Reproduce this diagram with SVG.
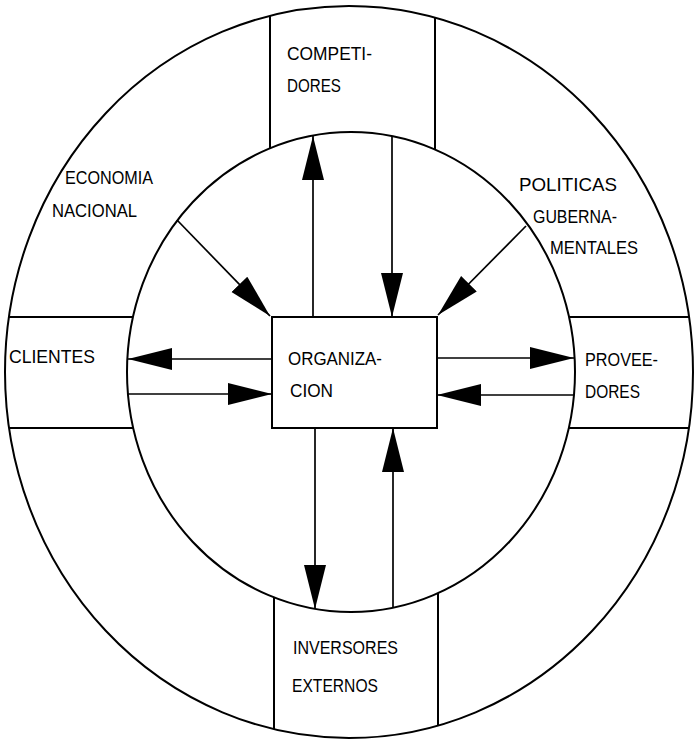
<svg xmlns="http://www.w3.org/2000/svg" width="699" height="741" viewBox="0 0 699 741">
<style>
.ln{fill:none;stroke:#000;stroke-width:2}
.t{font-family:"Liberation Sans",Arial,sans-serif;font-size:18.5px;fill:#000}
.ar{fill:none;stroke:#000;stroke-width:1.7;marker-end:url(#ah)}
</style>
<defs>
<marker id="ah" markerUnits="userSpaceOnUse" markerWidth="46" markerHeight="24" refX="44" refY="11" orient="auto">
<path d="M0,0 L44,11 L0,22 z" fill="#000"/>
</marker>
</defs>
<rect width="699" height="741" fill="#fff"/>
<g id="rings">
<ellipse class="ln" cx="349" cy="372" rx="344" ry="366"/>
<ellipse class="ln" cx="351" cy="372" rx="224" ry="240"/>
</g>
<g id="sectors" class="ln">
<line x1="270" y1="16" x2="270" y2="148"/>
<line x1="435" y1="18" x2="435" y2="150"/>
<line x1="274" y1="729" x2="274" y2="597"/>
<line x1="438" y1="726" x2="438" y2="593"/>
<line x1="9" y1="317" x2="133" y2="317"/>
<line x1="9" y1="428" x2="133" y2="428"/>
<line x1="569" y1="317" x2="689" y2="317"/>
<line x1="569" y1="428" x2="689" y2="428"/>
</g>
<g id="organizacion">
<rect class="ln" x="272" y="317" width="165" height="111"/>
<text class="t" x="288" y="365" textLength="94" lengthAdjust="spacingAndGlyphs">ORGANIZA-</text>
<text class="t" x="290" y="397" textLength="43" lengthAdjust="spacingAndGlyphs">CION</text>
</g>
<g id="competidores">
<text class="t" x="287" y="60" textLength="85" lengthAdjust="spacingAndGlyphs">COMPETI-</text>
<text class="t" x="287" y="92" textLength="54" lengthAdjust="spacingAndGlyphs">DORES</text>
</g>
<g id="clientes">
<text class="t" x="9" y="363" textLength="86" lengthAdjust="spacingAndGlyphs">CLIENTES</text>
</g>
<g id="proveedores">
<text class="t" x="585" y="366" textLength="73" lengthAdjust="spacingAndGlyphs">PROVEE-</text>
<text class="t" x="585" y="398" textLength="55" lengthAdjust="spacingAndGlyphs">DORES</text>
</g>
<g id="inversores">
<text class="t" x="293" y="654" textLength="105" lengthAdjust="spacingAndGlyphs">INVERSORES</text>
<text class="t" x="292" y="692" textLength="86" lengthAdjust="spacingAndGlyphs">EXTERNOS</text>
</g>
<g id="economia">
<text class="t" x="65" y="184" textLength="88" lengthAdjust="spacingAndGlyphs">ECONOMIA</text>
<text class="t" x="52" y="217" textLength="85" lengthAdjust="spacingAndGlyphs">NACIONAL</text>
</g>
<g id="politicas">
<text class="t" x="519" y="191" textLength="98" lengthAdjust="spacingAndGlyphs">POLITICAS</text>
<text class="t" x="533" y="223" textLength="84" lengthAdjust="spacingAndGlyphs">GUBERNA-</text>
<text class="t" x="550" y="254" textLength="88" lengthAdjust="spacingAndGlyphs">MENTALES</text>
</g>
<g id="connectors">
<line class="ar" x1="313" y1="317" x2="313" y2="136"/>
<line class="ar" x1="392" y1="136" x2="392" y2="317"/>
<line class="ar" x1="315" y1="428" x2="315" y2="609"/>
<line class="ar" x1="393" y1="607" x2="393" y2="428"/>
<line class="ar" x1="272" y1="359" x2="128" y2="359"/>
<line class="ar" x1="128" y1="394" x2="272" y2="394"/>
<line class="ar" x1="437" y1="358" x2="574" y2="358"/>
<line class="ar" x1="574" y1="395" x2="437" y2="395"/>
<line class="ar" x1="177" y1="220" x2="270" y2="316"/>
<line class="ar" x1="526" y1="226" x2="438" y2="315"/>
</g>
</svg>
